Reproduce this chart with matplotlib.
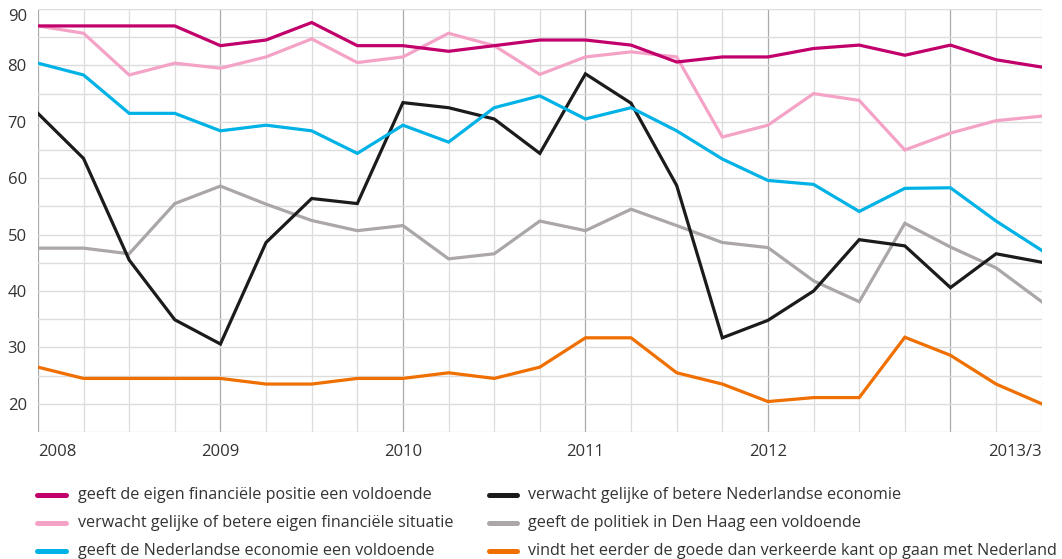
import matplotlib
matplotlib.use("Agg")
import matplotlib.pyplot as plt
from matplotlib.lines import Line2D

plt.rcParams['font.family'] = ['Open Sans', 'DejaVu Sans']

# kwartalen 2008/1 t/m 2013/3
kwartalen = list(range(23))
jaar_posities = [0, 4, 8, 12, 16, 22]
jaar_labels = ['2008', '2009', '2010', '2011', '2012', '2013/3']
jaar_lijnen = [0, 4, 8, 12, 16, 20]
y_labels = [20, 30, 40, 50, 60, 70, 80, 90]

eigen_positie = [87, 87, 87, 87, 83.5, 84.5, 87.6, 83.5, 83.5, 82.5, 83.5, 84.5,
                 84.5, 83.6, 80.6, 81.5, 81.5, 83, 83.6, 81.8, 83.6, 81, 79.7]
eigen_verwachting = [87, 85.7, 78.3, 80.4, 79.5, 81.5, 84.7, 80.5, 81.5, 85.7, 83.5, 78.4,
                     81.5, 82.4, 81.5, 67.3, 69.4, 75, 73.8, 65, 68, 70.2, 71]
economie = [80.4, 78.3, 71.5, 71.5, 68.4, 69.4, 68.4, 64.4, 69.4, 66.4, 72.5, 74.6,
            70.5, 72.5, 68.4, 63.4, 59.6, 58.9, 54.1, 58.2, 58.3, 52.4, 47.2]
economie_verwachting = [71.5, 63.5, 45.5, 34.9, 30.6, 48.6, 56.4, 55.5, 73.4, 72.5, 70.5, 64.4,
                        78.5, 73.3, 58.7, 31.7, 34.8, 40, 49.1, 48, 40.6, 46.6, 45.1]
politiek = [47.6, 47.6, 46.6, 55.5, 58.6, 55.4, 52.5, 50.7, 51.6, 45.7, 46.6, 52.4,
            50.7, 54.5, 51.6, 48.6, 47.7, 41.8, 38.1, 52, 47.8, 44.1, 38.1]
goede_kant = [26.5, 24.5, 24.5, 24.5, 24.5, 23.5, 23.5, 24.5, 24.5, 25.5, 24.5, 26.5,
              31.7, 31.7, 25.5, 23.5, 20.4, 21.1, 21.1, 31.8, 28.6, 23.5, 20]

reeksen = [
    (eigen_positie, '#c1006b', 'geeft de eigen financiële positie een voldoende'),
    (eigen_verwachting, '#f4a3c7', 'verwacht gelijke of betere eigen financiële situatie'),
    (economie, '#00b2e6', 'geeft de Nederlandse economie een voldoende'),
    (economie_verwachting, '#1b1b1b', 'verwacht gelijke of betere Nederlandse economie'),
    (politiek, '#aba6a8', 'geeft de politiek in Den Haag een voldoende'),
    (goede_kant, '#ef6f00', 'vindt het eerder de goede dan verkeerde kant op gaan met Nederland'),
]

fig = plt.figure(figsize=(10.62, 5.59), dpi=100)
ax = fig.add_axes([0.0357, 1 - 432 / 559, 0.9452, (432 - 9) / 559])

# raster
for k in kwartalen:
    kleur = '#a9a9a9' if k in jaar_lijnen else '#dcdcdc'
    ax.axvline(k, color=kleur, lw=0.9, zorder=0)
for y in range(15, 95, 5):
    ax.axhline(y, color='#dcdcdc', lw=1.0, zorder=0)

for i, (waarden, kleur, naam) in reversed(list(enumerate(reeksen))):
    ax.plot(kwartalen, waarden, color=kleur, lw=2.3, zorder=3 + (6 - i),
            solid_joinstyle='miter')

ax.set_xlim(0, 22)
ax.set_ylim(15, 90)
ax.set_yticks(y_labels)
ax.set_xticks(jaar_posities)
ax.set_xticklabels(jaar_labels)
ax.tick_params(length=0, labelsize=12, colors='#333333', pad=9)
ax.tick_params(axis='y', pad=8)
labels = ax.get_xticklabels()
labels[0].set_ha('left')
labels[-1].set_ha('right')
ax.get_yticklabels()[-1].set_va('top')
for s in ax.spines.values():
    s.set_visible(False)

# legenda
rij_y = [495, 523, 551]
kolom_x = [(37, 66, 78), (489, 517, 528)]
for i, (waarden, kleur, naam) in enumerate(reeksen):
    kol = kolom_x[i // 3]
    y = 1 - rij_y[i % 3] / 559
    fig.add_artist(Line2D([kol[0] / 1062, kol[1] / 1062], [y, y], color=kleur,
                          lw=3.6, solid_capstyle='round', transform=fig.transFigure))
    fig.text(kol[2] / 1062, y, naam, fontsize=11.6, color='#333333', va='center', ha='left')

fig.savefig('out.png', dpi=100)
